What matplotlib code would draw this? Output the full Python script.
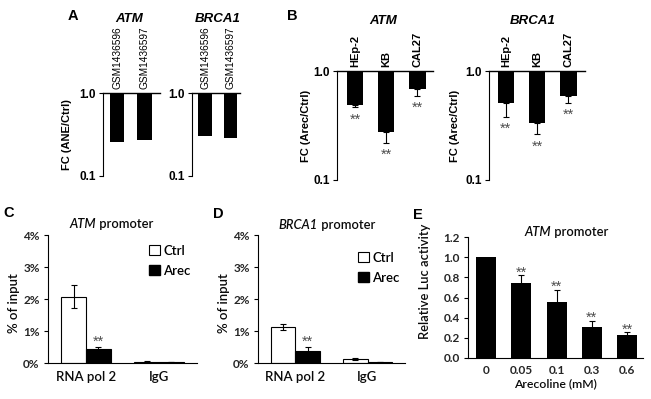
import matplotlib
matplotlib.use("Agg")
import matplotlib.pyplot as plt
from matplotlib.ticker import FixedLocator, NullLocator
from matplotlib.patches import Patch
import numpy as np

# ---------------- data ----------------
a_labels = ["GSM1436596", "GSM1436597"]
a_atm = [0.257, 0.27]
a_brca1 = [0.30, 0.29]

b_labels = ["HEp-2", "KB", "CAL27"]
b_atm = [0.49, 0.275, 0.68]
b_atm_err = [0.023, 0.056, 0.09]
b_brca1 = [0.51, 0.333, 0.59]
b_brca1_err = [0.13, 0.07, 0.08]

cd_groups = ["RNA pol 2", "IgG"]
c_ctrl = [2.07, 0.04]
c_ctrl_err = [0.36, 0.02]
c_arec = [0.44, 0.02]
c_arec_err = [0.05, 0.0]

d_ctrl = [1.12, 0.12]
d_ctrl_err = [0.09, 0.03]
d_arec = [0.38, 0.02]
d_arec_err = [0.11, 0.0]

e_doses = ["0", "0.05", "0.1", "0.3", "0.6"]
e_vals = [1.0, 0.747, 0.556, 0.305, 0.228]
e_err = [0.0, 0.075, 0.12, 0.065, 0.03]
e_sig = ["", "**", "**", "**", "**"]

# ---------------- layout helpers ----------------
W, H = 651, 399
fig = plt.figure(figsize=(W / 100, H / 100), dpi=100)
renderer = fig.canvas.get_renderer()

ARIAL = "Liberation Sans"
CAL = "Lato"
GREY = "#262626"
TXT = "#0a0a0a"
STAR = "#4d4d4d"
STAR_TXT = "**"
STAR_SIZE = 10.5


def rect(x0, x1, ytop, ybot):
    return [x0 / W, 1 - ybot / H, (x1 - x0) / W, (ybot - ytop) / H]


def ftext(x, y, s, **kw):
    return fig.text(x / W, 1 - y / H, s, **kw)


def mixed_title(cx, cy, italic, rest, size):
    kw = dict(fontsize=size, family=CAL, color=TXT, va="center", fontweight="semibold")
    t1 = ftext(0, cy, italic, fontstyle="italic", ha="left", **kw)
    t2 = ftext(0, cy, rest, ha="left", **kw)
    w1 = t1.get_window_extent(renderer).width
    w2 = t2.get_window_extent(renderer).width
    x0 = cx - (w1 + w2) / 2
    t1.set_x(x0 / W)
    t2.set_x((x0 + w1) / W)


def log_panel(box, labels, vals, errs, xlim, ylabel, title, title_xy, ylabel_x):
    ax = fig.add_axes(rect(*box))
    x = np.arange(len(labels))
    ax.set_yscale("log")
    ax.bar(x, [1 - v for v in vals], bottom=vals, width=0.52, color="black")
    if errs is not None:
        ax.errorbar(x, vals, yerr=[errs, [0] * len(errs)], fmt="none",
                    ecolor="black", elinewidth=0.8, capsize=2, capthick=0.8)
        for xi, v, e in zip(x, vals, errs):
            ax.annotate(STAR_TXT, xy=(xi, v - e), xytext=(0, -3.8), textcoords="offset points",
                        ha="center", va="top", fontsize=STAR_SIZE, color=STAR, family=ARIAL)
    ax.set_ylim(0.1, 1.0)
    ax.set_xlim(*xlim)
    ax.yaxis.set_major_locator(FixedLocator([0.1, 1.0]))
    ax.yaxis.set_minor_locator(NullLocator())
    ax.set_yticks([0.1, 1.0], ["0.1", "1.0"], fontweight="bold", fontsize=8.5, family=ARIAL)
    ax.tick_params(axis="y", length=3, width=0.8, pad=2)
    ax.xaxis.tick_top()
    ax.set_xticks(x, labels, rotation=90, family=ARIAL,
                  fontsize=(7.3 if len(labels) == 2 else 8),
                  fontweight=("normal" if len(labels) == 2 else "bold"))
    ax.tick_params(axis="x", length=0, pad=3)
    for s in ["bottom", "right"]:
        ax.spines[s].set_visible(False)
    ax.spines["top"].set_linewidth(1.0)
    ax.spines["left"].set_linewidth(0.8)
    if ylabel:
        ax.set_ylabel(ylabel, fontweight="bold", fontsize=8, family=ARIAL)
        ax.yaxis.set_label_coords(ylabel_x, 0.5)
    ftext(*title_xy, title, ha="center", va="center", fontsize=9.5,
          fontweight="bold", fontstyle="italic", family=ARIAL)
    return ax


# ---------------- Panel A ----------------
log_panel((103, 160, 93, 176), a_labels, a_atm, None, (-0.51, 1.56),
          "FC (ANE/Ctrl)", "ATM", (129, 19), -0.55)
log_panel((192, 240, 93, 176), a_labels, a_brca1, None, (-0.51, 1.37),
          None, "BRCA1", (218, 19), None)
ftext(73, 16, "A", ha="center", va="center", fontsize=10.5, fontweight="bold", family=ARIAL)

# ---------------- Panel B ----------------
log_panel((337, 433, 71, 180), b_labels, b_atm, b_atm_err, (-0.58, 2.5),
          "FC (Arec/Ctrl)", "ATM", (383, 21), -0.27)
log_panel((489, 585, 71, 180), b_labels, b_brca1, b_brca1_err, (-0.54, 2.53),
          "FC (Arec/Ctrl)", "BRCA1", (533, 21), -0.3)
ftext(292, 16, "B", ha="center", va="center", fontsize=10.5, fontweight="bold", family=ARIAL)


# ---------------- Panels C / D ----------------
def chip_panel(box, ctrl, ctrl_err, arec, arec_err, gene, title_xy, leg_xy, ylabel_x):
    ax = fig.add_axes(rect(*box))
    x = np.arange(len(cd_groups))
    w = 0.34
    ax.bar(x - w / 2, ctrl, width=w, color="white", edgecolor="black", linewidth=0.8)
    ax.bar(x + w / 2, arec, width=w, color="black", edgecolor="black", linewidth=0.8)
    ax.errorbar(x - w / 2, ctrl, yerr=ctrl_err, fmt="none", ecolor="black",
                elinewidth=0.8, capsize=2, capthick=0.8)
    ax.errorbar(x + w / 2, arec, yerr=arec_err, fmt="none", ecolor="black",
                elinewidth=0.8, capsize=2, capthick=0.8)
    ax.annotate(STAR_TXT, xy=(x[0] + w / 2, arec[0] + arec_err[0]), xytext=(0, -1),
                textcoords="offset points", ha="center", va="bottom",
                fontsize=STAR_SIZE, color=STAR, family=ARIAL)
    ax.set_ylim(0, 4)
    ax.set_xlim(-0.52, 1.52)
    ax.set_yticks([0, 1, 2, 3, 4], ["0%", "1%", "2%", "3%", "4%"],
                  fontsize=8.5, fontweight="bold", family=CAL, color=GREY)
    ax.set_xticks(x, cd_groups, fontsize=9.5, family=CAL, color=TXT, fontweight="semibold")
    ax.tick_params(axis="x", length=0, pad=6)
    ax.tick_params(axis="y", length=3, width=0.8, pad=3)
    for s in ["top", "right"]:
        ax.spines[s].set_visible(False)
    for s in ["left", "bottom"]:
        ax.spines[s].set_linewidth(0.8)
    ax.set_ylabel("% of input", fontsize=9.5, family=CAL, color=TXT, fontweight="semibold")
    ax.yaxis.set_label_coords(ylabel_x, 0.47)
    mixed_title(title_xy[0], title_xy[1], gene, " promoter", 9.3)
    handles = [Patch(facecolor="white", edgecolor="black", linewidth=0.8, label="Ctrl"),
               Patch(facecolor="black", edgecolor="black", label="Arec")]
    ax.legend(handles=handles, loc="upper left",
              bbox_to_anchor=((leg_xy[0] - box[0]) / (box[1] - box[0]),
                              1 - (leg_xy[1] - box[2]) / (box[3] - box[2])),
              frameon=False, handlelength=0.8, handleheight=0.8,
              handletextpad=0.3, labelspacing=0.6, borderaxespad=0,
              borderpad=0, prop={"family": CAL, "size": 9.5, "weight": "semibold"})
    return ax


chip_panel((48, 197, 235, 363), c_ctrl, c_ctrl_err, c_arec, c_arec_err, "ATM",
           (111, 224), (149, 245), -0.19)
ftext(9, 213, "C", ha="center", va="center", fontsize=10.5, fontweight="bold", family=ARIAL)

chip_panel((258, 405, 235, 363), d_ctrl, d_ctrl_err, d_arec, d_arec_err, "BRCA1",
           (327, 225), (358, 252), -0.19)
ftext(218, 214, "D", ha="center", va="center", fontsize=10.5, fontweight="bold", family=ARIAL)

# ---------------- Panel E ----------------
axE = fig.add_axes(rect(468, 643, 237, 358))
xe = np.arange(len(e_doses))
axE.bar(xe, e_vals, width=0.57, color="black")
axE.errorbar(xe[1:], e_vals[1:], yerr=e_err[1:], fmt="none", ecolor="black",
             elinewidth=0.8, capsize=2, capthick=0.8)
for xi, v, e, s in zip(xe, e_vals, e_err, e_sig):
    if s:
        axE.annotate(STAR_TXT, xy=(xi, v + e), xytext=(0, -3.2), textcoords="offset points",
                     ha="center", va="bottom", fontsize=STAR_SIZE, color=STAR, family=ARIAL)
axE.set_ylim(0, 1.2)
axE.set_xlim(-0.51, 4.45)
yt = [0.0, 0.2, 0.4, 0.6, 0.8, 1.0, 1.2]
axE.set_yticks(yt, ["%.1f" % t for t in yt], fontsize=8.5, fontweight="bold",
               family=CAL, color=GREY)
axE.set_xticks(xe, e_doses, fontsize=8.5, fontweight="bold", family=CAL, color=GREY)
axE.tick_params(axis="x", length=0, pad=5)
axE.tick_params(axis="y", length=3, width=0.8, pad=3)
for s in ["top", "right"]:
    axE.spines[s].set_visible(False)
for s in ["left", "bottom"]:
    axE.spines[s].set_linewidth(0.8)
axE.set_xlabel("Arecoline (mM)", fontsize=8.8, family=CAL, color=TXT,
               fontweight="semibold", labelpad=2)
axE.set_ylabel("Relative Luc activity", fontsize=9.3, family=CAL, color=TXT,
               fontweight="semibold")
axE.yaxis.set_label_coords(-0.21, 0.63)
mixed_title(566, 232, "ATM", " promoter", 9.3)
ftext(418, 215, "E", ha="center", va="center", fontsize=10.5, fontweight="bold", family=ARIAL)

fig.savefig("out.png", dpi=100)
